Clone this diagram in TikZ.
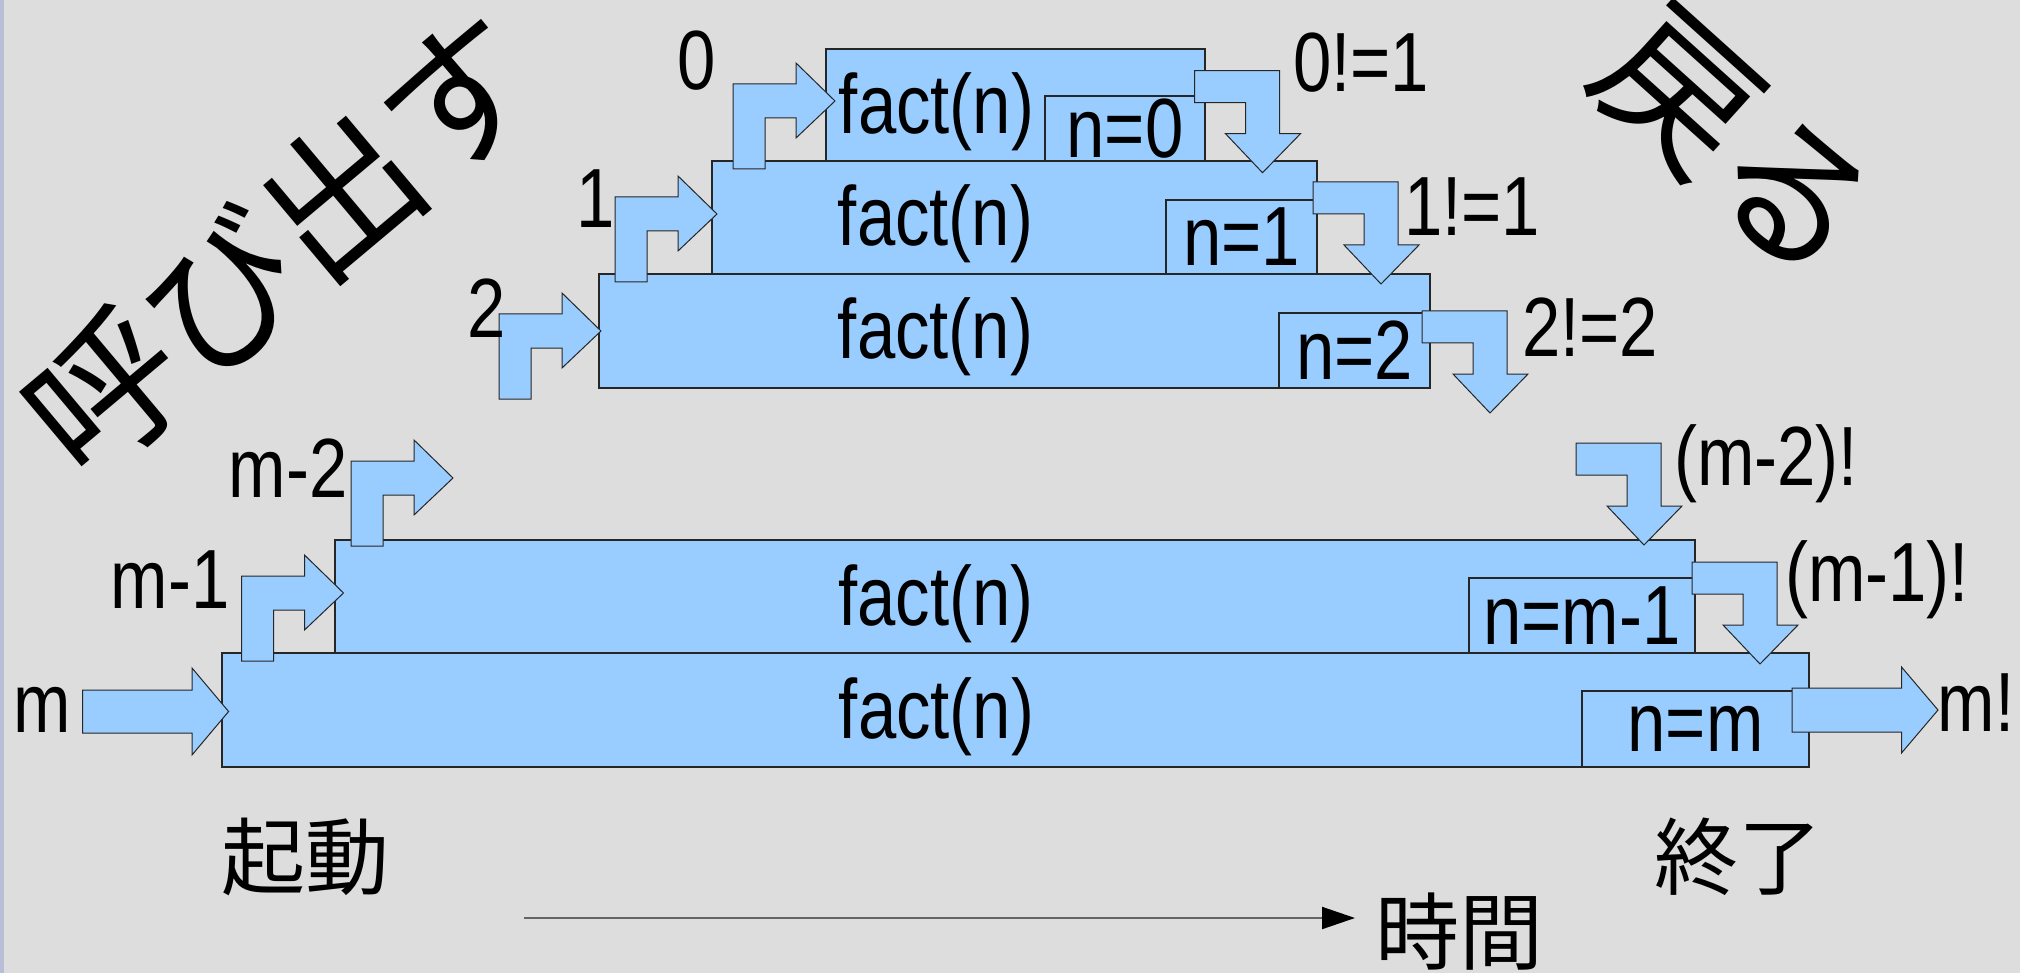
\documentclass[tikz,border=0pt]{standalone}
\usepackage{fontspec}
\setmainfont{Liberation Sans}[FakeStretch=0.82]
\newfontfamily\cjk{Noto Sans CJK JP}
\usetikzlibrary{arrows.meta,calc}
\definecolor{bg}{RGB}{221,221,221}
\definecolor{boxblue}{RGB}{153,204,255}
\definecolor{strip}{RGB}{185,190,215}
\definecolor{timegray}{RGB}{100,100,100}
\begin{document}
\begin{tikzpicture}[x=1pt,y=-1pt,
  box/.style={draw=black!85, fill=boxblue, line width=1.2pt, inner sep=0pt, outer sep=0pt, anchor=north west},
  lbl/.style={font=\fontsize{84}{90}\selectfont, inner sep=0pt},
  jp/.style={font=\cjk\fontsize{84}{90}\selectfont, inner sep=0pt},
  bigjp/.style={font=\cjk\fontsize{154}{160}\selectfont, inner sep=0pt},
  retjp/.style={font=\cjk\fontsize{156}{165}\selectfont, inner sep=0pt},
  blk/.style={draw=black!85, fill=boxblue, line width=1pt, line join=miter},
  callarrow/.pic={\path[blk] (0,0) -- (0,-85) -- (63,-85) -- (63,-106) -- (102,-68) -- (63,-31) -- (63,-51) -- (32,-51) -- (32,0) -- cycle;},
  retarrow/.pic={\path[blk] (0,0) -- (85,0) -- (85,63) -- (106,63) -- (68,102) -- (31,63) -- (51,63) -- (51,32) -- (0,32) -- cycle;},
]
\useasboundingbox (0,0) rectangle (2020,973);
\fill[bg] (0,0) rectangle (2020,973);
\fill[strip] (0,0) rectangle (4,973);

% boxes
\node[box, minimum width=379pt, minimum height=112pt] (b0) at (826,49) {};
\node[box, lbl, minimum width=160pt, minimum height=66pt] (n0) at (1045,96) {n=0};
\node[box, minimum width=605pt, minimum height=113pt] (b1) at (712,161) {};
\node[box, lbl, minimum width=151pt, minimum height=74pt] (n1) at (1166,200) {n=1};
\node[box, minimum width=831pt, minimum height=114pt] (b2) at (599,274) {};
\node[box, lbl, minimum width=151pt, minimum height=75pt] (n2) at (1279,313) {n=2};
\node[box, minimum width=1360pt, minimum height=113pt] (bm1) at (335,540) {};
\node[box, lbl, minimum width=226pt, minimum height=75pt] (nm1) at (1469,578) {n=m-1};
\node[box, minimum width=1587pt, minimum height=114pt] (bm) at (222,653) {};
\node[box, lbl, minimum width=227pt, minimum height=76pt] (nm) at (1582,691) {n=m};

\foreach \b in {b0,b1,b2,bm1,bm}
  \node[lbl, anchor=base] (f-\b) at ($(\b.north)+(-79,85)$) {fact(n)};

% call arrows
\coordinate (a0) at (733,169);
\coordinate (a1) at (615,282);
\coordinate (a2) at (499,399);
\coordinate (am1) at (241.5,661);
\coordinate (am2) at (351,546);
\foreach \a in {a0,a1,a2,am1,am2} \pic at (\a) {callarrow};

% return arrows
\coordinate (r0) at (1194.5,70.7);
\coordinate (r1) at (1313,182);
\coordinate (r2) at (1422,311);
\coordinate (rm2) at (1576,443);
\coordinate (rm1) at (1692,562);
\foreach \r in {r0,r1,r2,rm2,rm1} \pic at (\r) {retarrow};

% straight arrows
\path[blk] (82.6,690) -- (192,690) -- (192,668) -- (228.6,711.5) -- (192,755) -- (192,733) -- (82.6,733) -- cycle;
\path[blk] (1792,688) -- (1901.5,688) -- (1901.5,667) -- (1938,710) -- (1901.5,753) -- (1901.5,732) -- (1792,732) -- cycle;

% labels
\node[lbl] (l0) at (697,61) {0};
\node[lbl] (l1) at (596,199) {1};
\node[lbl] (l2) at (487,308) {2};
\node[lbl] (lm2) at (288,468) {m-2};
\node[lbl] (lm1) at (170,580) {m-1};
\node[lbl] (lm) at (42,710) {m};
\node[lbl] (o0) at (1361,63) {0!=1};
\node[lbl] (o1) at (1472,207) {1!=1};
\node[lbl] (o2) at (1590,327) {2!=2};
\node[lbl] (om2) at (1766,464) {(m-2)!};
\node[lbl] (om1) at (1877,580) {(m-1)!};
\node[lbl] (om) at (1976,703) {m!};

% japanese
\node[bigjp, rotate=40] (call) at (282,244) {呼び出す};
\node[retjp, rotate=-42] (ret) at (1735,144) {戻る};
\node[jp] (start) at (305,857) {起動};
\node[jp] (end) at (1738,857) {終了};
\node[jp] (time) at (1459,932) {時間};

% time axis
\coordinate (t0) at (524,918);
\coordinate (t1) at (1355,918);
\draw[timegray, line width=2pt, -{Triangle[length=33pt,width=22pt,black]}] (t0) -- (t1);
\end{tikzpicture}
\end{document}
